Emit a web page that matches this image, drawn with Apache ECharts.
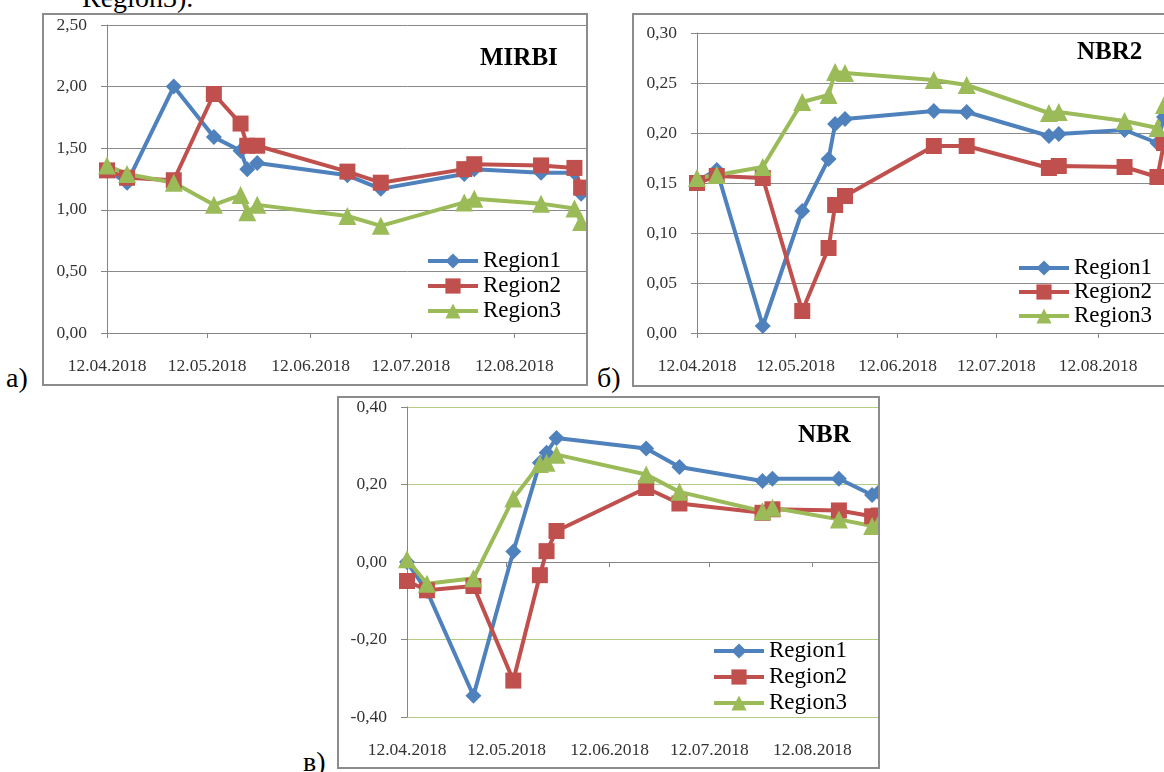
<!DOCTYPE html>
<html>
<head>
<meta charset="utf-8">
<script src="https://cdn.jsdelivr.net/npm/echarts@6/dist/echarts.min.js"></script>
<style>
body { margin:0; background:#fff; width:1164px; height:772px; overflow:hidden; position:relative; font-family:"Liberation Serif", serif; }
.frame { position:absolute; box-sizing:border-box; border:2px solid #8c8c8c; overflow:hidden; background:#fff; }
.chart { position:absolute; left:0; top:0; }
.lbl { position:absolute; font-size:28px; line-height:28px; color:#000; white-space:nowrap; }
</style>
</head>
<body>
<div class="lbl" style="left:82px;top:-16px">Region3).</div>
<div class="frame" style="left:42px;top:13px;width:546px;height:373px"><div class="chart" id="chartA" style="width:800px;height:369px"></div></div>
<div class="frame" style="left:632px;top:13px;width:620px;height:374px"><div class="chart" id="chartB" style="width:800px;height:370px"></div></div>
<div class="frame" style="left:337px;top:396px;width:543px;height:373px"><div class="chart" id="chartC" style="width:800px;height:369px"></div></div>
<div class="lbl" style="left:6px;top:364px">а)</div>
<div class="lbl" style="left:597px;top:364px">б)</div>
<div class="lbl" style="left:303px;top:748px">в)</div>
<script>
// acquisition dates (same for every panel)
var dates = ['12.04.2018','18.04.2018','02.05.2018','14.05.2018','22.05.2018','24.05.2018','27.05.2018',
             '23.06.2018','03.07.2018','28.07.2018','31.07.2018','20.08.2018','30.08.2018','01.09.2018'];
var tickLabels = ['12.04.2018','12.05.2018','12.06.2018','12.07.2018','12.08.2018'];
var regions = ['Region1','Region2','Region3'];
var colors = ['#4F81BD','#C0504D','#9BBB59'];
var symbols = ['diamond','rect','triangle'];
var symbolSizes = [16,16,18];

// а) MIRBI
var mirbiRegion1 = [1.32,1.22,2.00,1.59,1.48,1.33,1.38,1.28,1.17,1.29,1.33,1.30,1.30,1.13];
var mirbiRegion2 = [1.32,1.26,1.24,1.94,1.70,1.52,1.52,1.31,1.22,1.33,1.37,1.36,1.34,1.18];
var mirbiRegion3 = [1.36,1.29,1.22,1.04,1.12,0.98,1.04,0.95,0.87,1.06,1.09,1.05,1.01,0.90];
// б) NBR2
var nbr2Region1 = [0.152,0.163,0.007,0.122,0.174,0.209,0.214,0.222,0.221,0.197,0.199,0.203,0.190,0.216];
var nbr2Region2 = [0.150,0.157,0.155,0.022,0.085,0.128,0.137,0.187,0.187,0.165,0.167,0.166,0.156,0.190];
var nbr2Region3 = [0.155,0.158,0.166,0.231,0.238,0.261,0.260,0.253,0.248,0.220,0.221,0.212,0.205,0.228];
// в) NBR
var nbrRegion1 = [0.000,-0.075,-0.345,0.027,0.256,0.282,0.320,0.293,0.245,0.209,0.215,0.215,0.173,0.180];
var nbrRegion2 = [-0.049,-0.073,-0.062,-0.306,-0.034,0.028,0.080,0.191,0.151,0.127,0.136,0.133,0.118,0.120];
var nbrRegion3 = [0.007,-0.056,-0.042,0.164,0.253,0.256,0.277,0.226,0.181,0.131,0.140,0.110,0.093,0.100];

function dayOf(s) {
    var p = s.split('.');
    return Math.round((Date.UTC(+p[2], p[1] - 1, +p[0]) - Date.UTC(2018, 3, 12)) / 86400000);
}
var dayValues = dates.map(dayOf);
var tickDays = tickLabels.map(dayOf);

var serif = "'Liberation Serif', 'Times New Roman', serif";
function fmtY(v) { return v.toFixed(2).replace('.', ','); }
function fmtX(v) { var i = tickDays.indexOf(v); return i >= 0 ? tickLabels[i] : ''; }

function buildOption(c) {
    // labels sit at the bottom of the plot, the axis line with ticks sits at zero
    var labelAxis = {
        type:'value', min:0, max:180, position:'bottom',
        axisLine:{ show:false, onZero:false },
        axisTick:{ show:false },
        axisLabel:{ show:true, margin:24, customValues:tickDays, formatter:fmtX,
            fontFamily:serif, fontSize:17.5, color:'#333' },
        splitLine:{ show:false }
    };
    var lineAxis = {
        type:'value', min:0, max:180, position:'bottom',
        axisLine:{ show:true, onZero:true, lineStyle:{ color:'#868686', width:1 } },
        axisTick:{ show:true, length:5, customValues:tickDays, lineStyle:{ color:'#868686' } },
        axisLabel:{ show:false },
        splitLine:{ show:false }
    };
    return {
        animation:false,
        title:{ text:c.title, left:c.titleX, top:c.titleY, padding:0,
            textStyle:{ fontFamily:serif, fontWeight:'bold', fontSize:25, color:'#000' } },
        legend:{ orient:'vertical', left:c.legX, top:c.legY, itemWidth:50, itemHeight:19, itemGap:c.legGap,
            data:regions, selectedMode:false,
            lineStyle:{ width:4 },
            textStyle:{ fontFamily:serif, fontSize:23, lineHeight:24, color:'#000' } },
        grid:{ left:c.gl, top:c.gt, width:c.gw, height:c.gh },
        xAxis:[labelAxis, lineAxis],
        yAxis:{ type:'value', min:c.min, max:c.max, interval:c.step,
            axisLine:{ show:true, lineStyle:{ color:'#868686' } },
            axisTick:{ show:true, length:6, lineStyle:{ color:'#868686' } },
            axisLabel:{ margin:20, formatter:fmtY, fontFamily:serif, fontSize:17.5, color:'#333' },
            splitLine:{ show:true, lineStyle:{ color:c.gridColor, width:1 } } },
        series:c.values.map(function (vals, k) {
            return {
                name:regions[k], type:'line', xAxisIndex:0,
                data:vals.map(function (v, i) { return [dayValues[i], v]; }),
                symbol:symbols[k], symbolSize:symbolSizes[k],
                lineStyle:{ width:4, color:colors[k] },
                itemStyle:{ color:colors[k] }
            };
        })
    };
}

var chartA = echarts.init(document.getElementById('chartA'));
chartA.setOption(buildOption({
    title:'MIRBI', titleX:436, titleY:31,
    legX:377, legY:229, legGap:1,
    gl:63, gt:10, gw:601, gh:308,
    min:0, max:2.5, step:0.5, gridColor:'#8a8a8a',
    values:[mirbiRegion1, mirbiRegion2, mirbiRegion3]
}));

var chartB = echarts.init(document.getElementById('chartB'));
chartB.setOption(buildOption({
    title:'NBR2', titleX:443, titleY:25,
    legX:378, legY:236, legGap:0,
    gl:63, gt:18, gw:592, gh:300,
    min:0, max:0.3, step:0.05, gridColor:'#8a8a8a',
    values:[nbr2Region1, nbr2Region2, nbr2Region3]
}));

var chartC = echarts.init(document.getElementById('chartC'));
chartC.setOption(buildOption({
    title:'NBR', titleX:459, titleY:25,
    legX:368, legY:236, legGap:2,
    gl:68, gt:8, gw:598, gh:311,
    min:-0.4, max:0.4, step:0.2, gridColor:'#b3cc82',
    values:[nbrRegion1, nbrRegion2, nbrRegion3]
}));
</script>
</body>
</html>
